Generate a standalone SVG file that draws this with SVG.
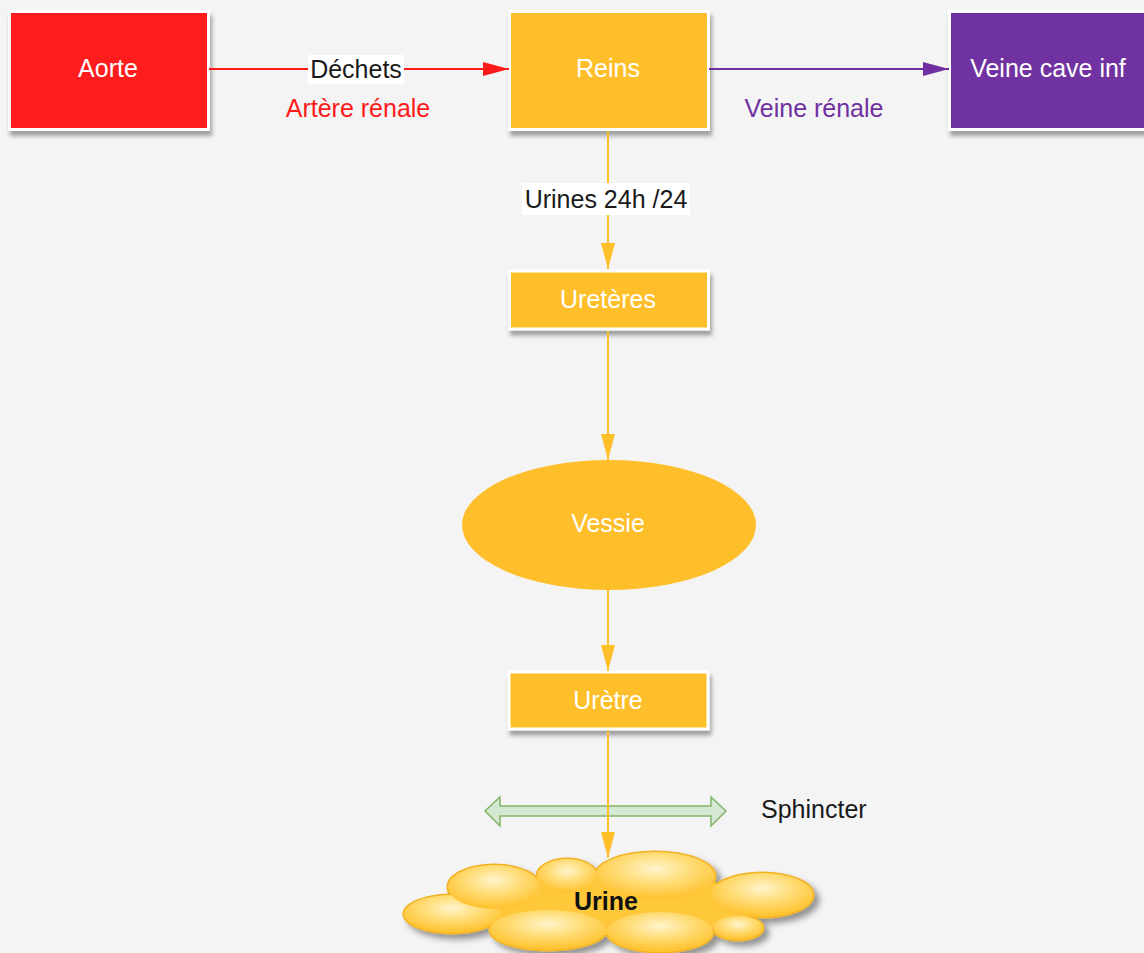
<svg xmlns="http://www.w3.org/2000/svg" width="1144" height="953" viewBox="0 0 1144 953">
<defs>
<style>
.lbl{font-family:"Liberation Sans",Arial,sans-serif;font-size:25px;text-anchor:middle}
.wt{fill:#ffffff}
.box{stroke:#ffffff;stroke-width:3}
.ln{fill:none;stroke-width:2}
</style>
<filter id="sh" x="-10%" y="-10%" width="130%" height="140%">
<feDropShadow dx="2" dy="5" stdDeviation="2" flood-color="#000" flood-opacity="0.35"/>
</filter>
<filter id="csh" x="-10%" y="-20%" width="130%" height="150%">
<feDropShadow dx="5" dy="5" stdDeviation="3" flood-color="#000" flood-opacity="0.4"/>
</filter>
<marker id="ar" markerUnits="userSpaceOnUse" markerWidth="26" markerHeight="14" refX="26" refY="7" orient="auto"><path d="M0,0 L26,7 L0,14 Z" fill="#FF1A1A"/></marker>
<marker id="ap" markerUnits="userSpaceOnUse" markerWidth="26" markerHeight="14" refX="26" refY="7" orient="auto"><path d="M0,0 L26,7 L0,14 Z" fill="#7030A0"/></marker>
<marker id="ao" markerUnits="userSpaceOnUse" markerWidth="26" markerHeight="14" refX="26" refY="7" orient="auto"><path d="M0,0 L26,7 L0,14 Z" fill="#FFBF2B"/></marker>
<radialGradient id="lobe" cx="0.5" cy="0.35" r="0.6">
<stop offset="0" stop-color="#FFF4CC"/>
<stop offset="0.5" stop-color="#FFDD78"/>
<stop offset="1" stop-color="#FFC434"/>
</radialGradient>
</defs>
<rect x="0" y="0" width="1144" height="953" fill="#F4F4F4"/>

<g id="aorte">
<rect class="box" x="9.5" y="11.5" width="199" height="118" fill="#FF1A1A" filter="url(#sh)"/>
<text class="lbl wt" x="108" y="77">Aorte</text>
</g>
<g id="reins">
<rect class="box" x="509.5" y="11.5" width="199" height="118" fill="#FFBF2B" filter="url(#sh)"/>
<text class="lbl wt" x="608" y="77">Reins</text>
</g>
<g id="veine-cave">
<rect class="box" x="949.5" y="11.5" width="199" height="118" fill="#7030A0" filter="url(#sh)"/>
<text class="lbl wt" x="1048" y="77">Veine cave inf</text>
</g>
<g id="ureteres">
<rect class="box" x="509.5" y="271" width="199" height="58" fill="#FFBF2B" filter="url(#sh)"/>
<text class="lbl wt" x="608" y="308">Uretères</text>
</g>
<g id="vessie">
<ellipse cx="609" cy="525" rx="147" ry="65" fill="#FFBF2B"/>
<text class="lbl wt" x="608" y="532">Vessie</text>
</g>
<g id="uretre">
<rect class="box" x="509" y="672" width="199" height="57" fill="#FFBF2B" filter="url(#sh)"/>
<text class="lbl wt" x="608" y="709">Urètre</text>
</g>
<g id="sphincter">
<polygon points="485,811 500,797 500,806 711,806 711,797 726,811 711,826 711,816 500,816 500,826" fill="#D5E8D4" stroke="#82B366" stroke-width="1.5"/>
<text class="lbl" x="761" y="818" style="text-anchor:start" fill="#1a1a1a">Sphincter</text>
</g>
<g id="urine">
<g filter="url(#csh)">
<g stroke="#F2B222" stroke-width="3" fill="#FFC434">
<ellipse cx="452" cy="914" rx="48" ry="19"/>
<ellipse cx="494" cy="887" rx="46" ry="22"/>
<ellipse cx="567" cy="876" rx="30" ry="17"/>
<ellipse cx="655" cy="876" rx="60" ry="24"/>
<ellipse cx="762" cy="895" rx="51" ry="22"/>
<ellipse cx="738" cy="928" rx="25" ry="12"/>
<ellipse cx="548" cy="930" rx="58" ry="20"/>
<ellipse cx="660" cy="932" rx="53" ry="20"/>
<ellipse cx="610" cy="905" rx="150" ry="30"/>
</g>
</g>
<g fill="url(#lobe)">
<ellipse cx="610" cy="905" rx="150" ry="30" fill="#FFC83A"/>
<ellipse cx="452" cy="914" rx="48" ry="19"/>
<ellipse cx="494" cy="887" rx="46" ry="22"/>
<ellipse cx="567" cy="876" rx="30" ry="17"/>
<ellipse cx="655" cy="876" rx="60" ry="24"/>
<ellipse cx="762" cy="895" rx="51" ry="22"/>
<ellipse cx="738" cy="928" rx="25" ry="12"/>
<ellipse cx="548" cy="930" rx="58" ry="20"/>
<ellipse cx="660" cy="932" rx="53" ry="20"/>
</g>
<text class="lbl" x="606" y="910" font-weight="bold" fill="#111">Urine</text>
</g>

<g id="connectors">
<line class="ln" x1="209" y1="69" x2="509" y2="69" stroke="#FF1A1A" marker-end="url(#ar)"/>
<rect x="308" y="55" width="96" height="29" fill="#ffffff"/>
<text class="lbl" x="356" y="78" fill="#1a1a1a">Déchets</text>
<text class="lbl" x="358" y="117" fill="#FF1A1A">Artère rénale</text>
<line class="ln" x1="709" y1="69" x2="949" y2="69" stroke="#7030A0" marker-end="url(#ap)"/>
<text class="lbl" x="814" y="117" fill="#7030A0">Veine rénale</text>
<line class="ln" x1="608" y1="131" x2="608" y2="269" stroke="#FFBF2B" marker-end="url(#ao)"/>
<rect x="522" y="183" width="168" height="32" fill="#ffffff"/>
<text class="lbl" x="606" y="208" fill="#1a1a1a">Urines 24h /24</text>
<line class="ln" x1="608" y1="331" x2="608" y2="460" stroke="#FFBF2B" marker-end="url(#ao)"/>
<line class="ln" x1="608" y1="590" x2="608" y2="671" stroke="#FFBF2B" marker-end="url(#ao)"/>
<line class="ln" x1="608" y1="730" x2="608" y2="858" stroke="#FFBF2B" marker-end="url(#ao)"/>
</g>
</svg>
